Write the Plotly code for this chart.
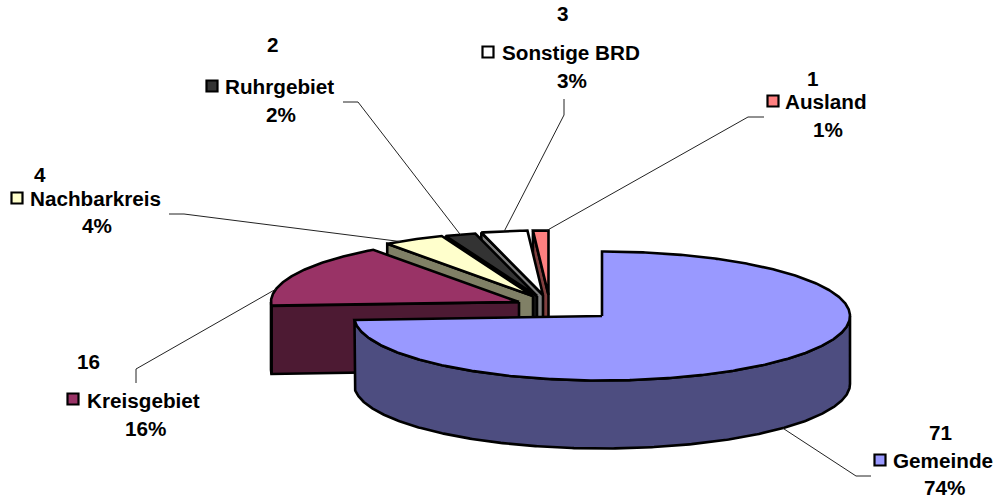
import numpy as np
import plotly.graph_objects as go

# ---- data ----
categories = ["Gemeinde", "Kreisgebiet", "Nachbarkreis", "Ruhrgebiet", "Sonstige BRD", "Ausland"]
counts = [71, 16, 4, 2, 3, 1]
percents = [74, 16, 4, 2, 3, 1]

# ---- style / layout ----
top_colors = ["#9999FF", "#993366", "#FFFFCC", "#333333", "#FFFFFF", "#FF8080"]
wall_colors = ["#4D4D80", "#4D1A33", "#808066", "#1A1A1A", "#808080", "#804040"]
RX, RY, DEPTH = 248, 64.5, 68
PIE_X, PIE_Y = 602, 316
# explosion shift of each slice apex (pixels of the canvas)
shift_x = [0, -83, -69, -65, -59, -53.5]
shift_y = [0, -14, -20, -20, -21, -21]
# where on each rim the leader line attaches (degrees clockwise from top)
leader_angle = [133.2, 281.6, 327.6, 342, 351, 359.6]
leader_depth = [1, 0, 0, 0, 0, 0]
# leader elbows: (outer end, elbow)
leader_ends = [((871, 476), (856, 476)), ((136, 383), (136, 369)), ((169, 214), (184, 214)),
               ((343, 102), (358, 102)), ((564, 99), (564, 115)), ((764, 117), (748, 117))]
key_pos = [(880, 460), (73, 399), (17, 198), (212, 86), (488, 52), (773, 101)]
name_pos = [(892, 460), (86, 400), (29, 198), (224, 86), (501, 52), (784, 101)]
count_pos = [(940, 432), (88, 361), (40, 174), (273, 44), (563, 13), (813, 78)]
pct_pos = [(944, 487), (145, 428), (97, 225), (281, 114), (572, 80), (828, 129)]
FONT = dict(family="Liberation Sans, Arial, sans-serif", size=20.7, color="black")
EDGE = dict(color="black", width=2.6)

fractions = np.array(percents, float) / sum(percents)
ends = np.cumsum(fractions) * 360
starts = ends - fractions * 360


def rim(cx, cy, a0, a1, drop=0.0):
    n = max(int(abs(a1 - a0)) * 2, 2)
    t = np.radians(np.linspace(a0, a1, n))
    return cx + RX * np.sin(t), cy - RY * np.cos(t) + drop


fig = go.Figure()


def poly(xs, ys, color):
    fig.add_trace(go.Scatter(x=list(xs) + [xs[0]], y=list(ys) + [ys[0]], mode="lines", fill="toself",
                             fillcolor=color, line=EDGE, hoverinfo="skip", showlegend=False))


# painter's order: rear slices first, Gemeinde last
for i in [5, 4, 3, 2, 1, 0]:
    cx, cy = PIE_X + shift_x[i], PIE_Y + shift_y[i]
    a0, a1 = starts[i], ends[i]
    # radial wall on the start edge
    if i > 0:
        rx_, ry_ = rim(cx, cy, a0, a0)
        poly([cx, rx_[0], rx_[0], cx], [cy, ry_[0], ry_[0] + DEPTH, cy + DEPTH], wall_colors[i])
    # curved outer wall, only where the rim faces the viewer
    f0, f1 = max(a0, 90), min(a1, 270)
    if f1 > f0:
        xt, yt = rim(cx, cy, f0, f1)
        xb, yb = rim(cx, cy, f1, f0, DEPTH)
        poly(np.r_[xt, xb], np.r_[yt, yb], wall_colors[i])
    # top face
    xa, ya = rim(cx, cy, a0, a1)
    poly(np.r_[cx, xa], np.r_[cy, ya], top_colors[i])

# leader lines, keys and labels
for i, cat in enumerate(categories):
    cx, cy = PIE_X + shift_x[i], PIE_Y + shift_y[i]
    lx, ly = rim(cx, cy, leader_angle[i], leader_angle[i], DEPTH * leader_depth[i])
    (ox, oy), (ex, ey) = leader_ends[i]
    fig.add_trace(go.Scatter(x=[ox, ex, lx[0]], y=[oy, ey, ly[0]], mode="lines",
                             line=dict(color="#222222", width=1), hoverinfo="skip", showlegend=False))
    fig.add_trace(go.Scatter(x=[key_pos[i][0]], y=[key_pos[i][1]], mode="markers",
                             marker=dict(symbol="square", size=11, color=top_colors[i],
                                         line=dict(color="black", width=2.2)),
                             hoverinfo="skip", showlegend=False))
    fig.add_annotation(x=name_pos[i][0], y=name_pos[i][1], text=f"<b>{cat}</b>", xanchor="left",
                       yanchor="middle", showarrow=False, font=FONT, borderpad=0)
    fig.add_annotation(x=count_pos[i][0], y=count_pos[i][1], text=f"<b>{counts[i]}</b>", xanchor="center",
                       yanchor="middle", showarrow=False, font=FONT, borderpad=0)
    fig.add_annotation(x=pct_pos[i][0], y=pct_pos[i][1], text=f"<b>{percents[i]}%</b>", xanchor="center",
                       yanchor="middle", showarrow=False, font=FONT, borderpad=0)

fig.update_layout(width=998, height=499, margin=dict(l=0, r=0, t=0, b=0),
                  paper_bgcolor="white", plot_bgcolor="white",
                  xaxis=dict(range=[0, 998], visible=False, fixedrange=True),
                  yaxis=dict(range=[499, 0], visible=False, fixedrange=True))
fig.write_html("out.html", config=dict(displayModeBar=False),
               post_script="document.body.style.margin='0';")
